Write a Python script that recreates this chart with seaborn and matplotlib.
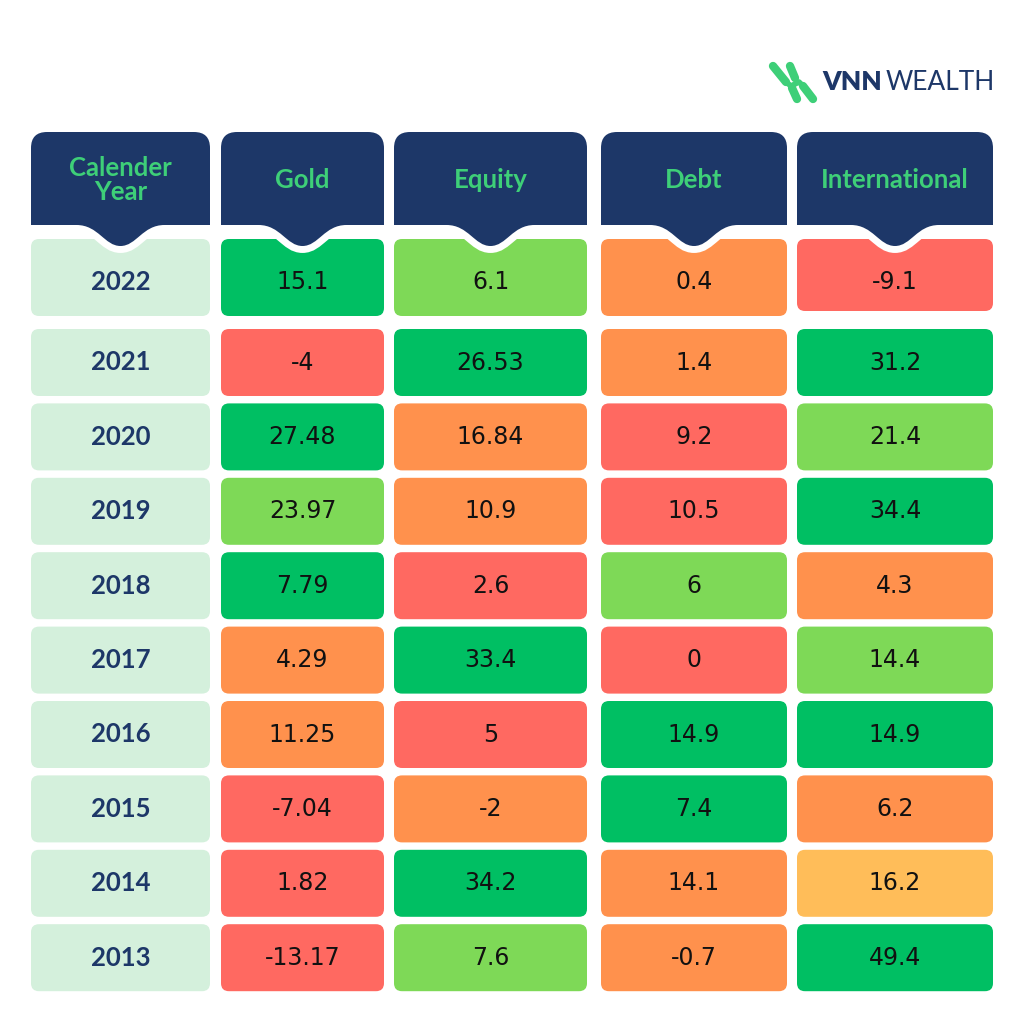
import numpy as np
import matplotlib.pyplot as plt
import seaborn as sns
from matplotlib.patches import FancyBboxPatch, PathPatch
from matplotlib.path import Path

# Data
years = [2022, 2021, 2020, 2019, 2018, 2017, 2016, 2015, 2014, 2013]
headers = ['Calender\nYear', 'Gold', 'Equity', 'Debt', 'International']
gold = [15.1, -4, 27.48, 23.97, 7.79, 4.29, 11.25, -7.04, 1.82, -13.17]
equity = [6.1, 26.53, 16.84, 10.9, 2.6, 33.4, 5, -2, 34.2, 7.6]
debt = [0.4, 1.4, 9.2, 10.5, 6, 0, 14.9, 7.4, 14.1, -0.7]
international = [-9.1, 31.2, 21.4, 34.4, 4.3, 14.4, 14.9, 6.2, 16.2, 49.4]

# colour class of each cell (as shown in the original table)
grades = [
    ['dg', 'lg', 'or', 'rd'],
    ['rd', 'dg', 'or', 'dg'],
    ['dg', 'or', 'rd', 'lg'],
    ['lg', 'or', 'rd', 'dg'],
    ['dg', 'rd', 'lg', 'or'],
    ['or', 'dg', 'rd', 'lg'],
    ['or', 'rd', 'dg', 'dg'],
    ['rd', 'or', 'dg', 'or'],
    ['rd', 'dg', 'or', 'yl'],
    ['rd', 'lg', 'or', 'dg'],
]

pal = {'dg': '#00bf63', 'lg': '#7ed957', 'or': '#ff914d',
       'rd': '#ff6961', 'yl': '#ffbd59'}
navy = '#1d3768'
green_txt = '#3ecf78'
year_bg = '#d4f0dc'

sns.set_theme(style='white')
plt.rcParams['font.family'] = ['Lato', 'DejaVu Sans']

fig = plt.figure(figsize=(10.24, 10.24), dpi=100)
ax = fig.add_axes([0, 0, 1, 1])
ax.set_xlim(0, 1024)
ax.set_ylim(1024, 0)
ax.axis('off')

# layout (pixels)
col_l = [31, 221, 394, 601, 797]
col_r = [210, 384, 587, 787, 993]
head_top, head_bot = 132, 225
row0_top, row0_bot = 239, 316
row_top, row_pitch, row_h = 329, 74.4, 67
rad = 8

values = list(zip(gold, equity, debt, international))


def rbox(x0, y0, x1, y1, color, r=rad, z=1):
    p = FancyBboxPatch((x0 + r, y0 + r), (x1 - x0) - 2 * r, (y1 - y0) - 2 * r,
                       boxstyle=f'round,pad={r}', fc=color, ec='none', zorder=z)
    ax.add_patch(p)


def header_path(x0, x1, top, bot, r=16):
    c = (x0 + x1) / 2
    verts = [(x0, bot), (x0, top + r), (x0, top), (x0 + r, top),
             (x1 - r, top), (x1, top), (x1, top + r), (x1, bot),
             (c + 44, bot), (c + 22, bot), (c + 16, bot + 21), (c, bot + 21),
             (c - 16, bot + 21), (c - 22, bot), (c - 44, bot), (x0, bot)]
    codes = [Path.MOVETO, Path.LINETO, Path.CURVE3, Path.CURVE3,
             Path.LINETO, Path.CURVE3, Path.CURVE3, Path.LINETO,
             Path.LINETO, Path.CURVE4, Path.CURVE4, Path.CURVE4,
             Path.CURVE4, Path.CURVE4, Path.CURVE4, Path.CLOSEPOLY]
    return Path(verts, codes)


for j in range(5):
    x0, x1 = col_l[j], col_r[j]
    xc = (x0 + x1) / 2
    # first row, partly hidden by header notch
    c0 = year_bg if j == 0 else pal[grades[0][j - 1]]
    bot0 = 311 if j == 4 else row0_bot
    rbox(x0, row0_top, x1, bot0, c0)
    # header with white halo around notch
    hp = header_path(x0, x1, head_top, head_bot)
    ax.add_patch(PathPatch(hp, fc='white', ec='white', lw=10, zorder=2))
    ax.add_patch(PathPatch(hp, fc=navy, ec='none', zorder=3))
    ax.text(xc, (head_top + head_bot) / 2 + 2, headers[j], ha='center', va='center',
            color=green_txt, fontsize=18.5, fontweight='bold', linespacing=1.0, zorder=4)

    for i, yr in enumerate(years):
        if i == 0:
            yc = 282
        else:
            y0 = row_top + (i - 1) * row_pitch
            c = year_bg if j == 0 else pal[grades[i][j - 1]]
            rbox(x0, y0, x1, y0 + row_h, c)
            yc = y0 + row_h / 2
        if j == 0:
            ax.text(xc, yc, str(yr), ha='center', va='center', color=navy,
                    fontsize=18.5, fontweight='bold', zorder=5)
        else:
            v = values[i][j - 1]
            ax.text(xc, yc, f'{v:g}', ha='center', va='center', color='#111111',
                    fontsize=17, family='DejaVu Sans', zorder=5)

# logo
lg_col = '#3ecf78'
kw = dict(color=lg_col, lw=6, solid_capstyle='round')
ax.plot([773, 786], [66, 82], **kw)
ax.plot([786, 791, 799, 803], [82, 86, 82, 86], color=lg_col, lw=4)
ax.plot([803, 813], [86, 99], **kw)
ax.plot([790, 795], [66, 78], **kw)
ax.plot([792, 797], [88, 99], **kw)
ax.text(822, 82, 'VNN', ha='left', va='center', color=navy, fontsize=19,
        fontweight='heavy')
ax.text(886, 82, 'WEALTH', ha='left', va='center', color=navy, fontsize=19)

fig.savefig('out.png', dpi=100, facecolor='white')
